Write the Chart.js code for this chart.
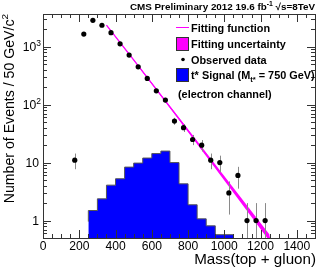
<!DOCTYPE html>
<html><head><meta charset="utf-8">
<script src="https://cdn.jsdelivr.net/npm/chart.js@4/dist/chart.umd.min.js"></script>
<style>html,body{margin:0;padding:0;background:#fff}</style>
</head><body>
<canvas id="c" width="332" height="274"></canvas>
<script>
// Observed data (bin centres, counts)
const dataMass   = [175, 225, 275, 325, 375, 425, 475, 525, 575, 625, 675, 725, 775, 825, 875, 925, 975, 1025, 1075, 1125, 1175, 1225];
const dataCounts = [11, 1650, 2850, 2340, 1740, 1120, 716, 449, 283, 173, 120, 52, 40, 25, 20, 11, 10, 3, 6, 1, 1, 1];
// t* signal histogram (bin low edges, contents)
const signalBinLow = [250, 300, 350, 400, 450, 500, 550, 600, 650, 700, 750, 800, 850, 900, 950, 1000];
const signalBinHigh = 1050;
const signalCounts = [0.96, 1.49, 2.37, 4.08, 5.26, 8.36, 9.8, 11.97, 14.3, 15.8, 10.0, 4.3, 1.87, 1.07, 0.81, 0.57];
// Fitting function, with its relative uncertainty
const fitMass   = [350, 500, 725, 925, 1250];
const fitValues = [2350, 590, 72, 10.9, 0.5];
const fitRelUnc = [0.01, 0.02, 0.045, 0.08, 0.14];
// Axis ticks
const xTicks = [0, 200, 400, 600, 800, 1000, 1200, 1400];
const yTicks = [1, 10, 100, 1000];
const yTickExp = ["", "", "2", "3"];

const FONT = '"Liberation Sans", Arial, Helvetica, sans-serif';
const MAGENTA = '#ff00ff', BLUE = '#0000ff';

const pts = (xs, ys) => xs.map((x, i) => ({x: x, y: ys[i]}));
const sigPts = signalBinLow.map((x, i) => ({x: x, y: signalCounts[i]}));
sigPts.push({x: signalBinHigh, y: signalCounts[signalCounts.length - 1]});
const bandUp = pts(fitMass, fitValues.map((v, i) => v * (1 + fitRelUnc[i])));
const bandLo = pts(fitMass, fitValues.map((v, i) => v / (1 + fitRelUnc[i])));

function fitSize(ctx, text, weight, target) {
  ctx.font = weight + ' 20px ' + FONT;
  return 20 * target / ctx.measureText(text).width;
}

function rich(ctx, parts, x, y, size, weight, align) {
  const fs = p => p[1] === 'n' ? size : size * 0.7;
  let w = 0;
  parts.forEach(p => { ctx.font = weight + ' ' + fs(p) + 'px ' + FONT; w += ctx.measureText(p[0]).width; });
  let cx = align === 'right' ? x - w : (align === 'center' ? x - w / 2 : x);
  ctx.textAlign = 'left';
  ctx.textBaseline = 'alphabetic';
  parts.forEach(p => {
    ctx.font = weight + ' ' + fs(p) + 'px ' + FONT;
    let dy = p[1] === 'sup' ? -size * 0.42 : (p[1] === 'sub' ? size * 0.25 : 0);
    ctx.fillText(p[0], cx, y + dy);
    cx += ctx.measureText(p[0]).width;
  });
}

const rootPlugin = {
  id: 'rootStyle',
  beforeDatasetDraw(chart, args) {
    if (args.index !== 4) return;
    const {ctx, chartArea: a, scales: {x, y}} = chart;
    ctx.save();
    ctx.beginPath(); ctx.rect(a.left, a.top, a.right - a.left, a.bottom - a.top); ctx.clip();
    ctx.strokeStyle = '#8a8a8a'; ctx.lineWidth = 1;
    dataMass.forEach((m, i) => {
      const n = dataCounts[i], e = Math.sqrt(n);
      const px = Math.round(x.getPixelForValue(m)) + 0.5;
      const lo = n - e > 0 ? y.getPixelForValue(n - e) : a.bottom;
      ctx.beginPath(); ctx.moveTo(px, y.getPixelForValue(n + e)); ctx.lineTo(px, lo); ctx.stroke();
    });
    ctx.restore();
  },
  afterDraw(chart) {
    const {ctx, chartArea: a, scales: {x, y}} = chart;
    ctx.save();
    ctx.fillStyle = '#000';
    ctx.strokeStyle = '#333'; ctx.lineWidth = 1;
    ctx.strokeRect(Math.round(a.left) + 0.5, Math.round(a.top) + 0.5, Math.round(a.right - a.left), Math.round(a.bottom - a.top));
    ctx.beginPath();
    for (let v = 0; v <= x.max; v += 50) {
      const px = Math.round(x.getPixelForValue(v)) + 0.5;
      const len = v % 200 === 0 ? 8 : 4;
      ctx.moveTo(px, a.bottom); ctx.lineTo(px, a.bottom - len);
      ctx.moveTo(px, a.top); ctx.lineTo(px, a.top + len);
    }
    for (let d = -1; d <= 3; d++) {
      for (let k = 1; k <= 9; k++) {
        const v = k * Math.pow(10, d);
        if (v < y.min || v > y.max) continue;
        const py = Math.round(y.getPixelForValue(v)) + 0.5;
        const len = k === 1 ? 8 : 4;
        ctx.moveTo(a.left, py); ctx.lineTo(a.left + len, py);
        ctx.moveTo(a.right, py); ctx.lineTo(a.right - len, py);
      }
    }
    ctx.stroke();
    const tickSize = fitSize(ctx, '1400', 'normal', 27);
    xTicks.forEach(v => rich(ctx, [[String(v), 'n']], x.getPixelForValue(v), 250, tickSize, 'normal', 'center'));
    yTicks.forEach((v, i) => {
      const py = y.getPixelForValue(v) + 4;
      if (yTickExp[i]) rich(ctx, [['10', 'n'], [yTickExp[i], 'sup']], 41, py, tickSize, 'normal', 'right');
      else rich(ctx, [[v === 1 ? '1' : '10', 'n']], 39, py, tickSize, 'normal', 'right');
    });
    const xtSize = fitSize(ctx, 'Mass(top + gluon)', 'normal', 122);
    rich(ctx, [['Mass(top + gluon)', 'n']], 316, 264, xtSize, 'normal', 'right');
    const ytSize = fitSize(ctx, 'Number of Events / 50 GeV/c', 'normal', 184);
    ctx.save();
    ctx.translate(14, 14); ctx.rotate(-Math.PI / 2);
    rich(ctx, [['Number of Events / 50 GeV/c', 'n'], ['2', 'sup']], 0, 0, ytSize, 'normal', 'right');
    ctx.restore();
    const hSize = fitSize(ctx, 'CMS Preliminary 2012 19.6 fb-1 \u221As=8TeV', 'bold', 188);
    rich(ctx, [['CMS Preliminary 2012 19.6 fb', 'n'], ['-1', 'sup'], [' \u221As=8TeV', 'n']], 315, 10, hSize, 'bold', 'right');
    // legend
    const fw = 'bold';
    const fsz = fitSize(ctx, 'Fitting uncertainty', fw, 95);
    const tx = 191;
    ctx.strokeStyle = MAGENTA; ctx.lineWidth = 1;
    ctx.beginPath(); ctx.moveTo(176, 27.5); ctx.lineTo(189, 27.5); ctx.stroke();
    rich(ctx, [['Fitting function', 'n']], tx, 31.5, fsz, fw, 'left');
    ctx.fillStyle = MAGENTA; ctx.fillRect(176, 37, 13, 14);
    ctx.strokeStyle = '#333'; ctx.strokeRect(176.5, 37.5, 12, 13);
    ctx.fillStyle = '#000';
    rich(ctx, [['Fitting uncertainty', 'n']], tx, 48, fsz, fw, 'left');
    ctx.beginPath(); ctx.arc(183, 59.5, 1.8, 0, Math.PI * 2); ctx.fill();
    rich(ctx, [['Observed data', 'n']], tx, 63.5, fsz, fw, 'left');
    ctx.fillStyle = BLUE; ctx.fillRect(176, 68, 13, 14);
    ctx.strokeRect(176.5, 68.5, 12, 13);
    ctx.fillStyle = '#000';
    rich(ctx, [['t* Signal (M', 'n'], ['t*', 'sub'], [' = 750 GeV)', 'n']], tx, 79, fsz, fw, 'left');
    rich(ctx, [['(electron channel)', 'n']], 178, 97.5, fsz, fw, 'left');
    ctx.restore();
  }
};

new Chart(document.getElementById('c'), {
  type: 'line',
  data: {
    datasets: [
      {data: bandUp, borderWidth: 0, pointRadius: 0, fill: '+1', backgroundColor: MAGENTA, order: 2},
      {data: bandLo, borderWidth: 0, pointRadius: 0, fill: false, order: 3},
      {data: pts(fitMass, fitValues), borderColor: MAGENTA, borderWidth: 1.3, pointRadius: 0, fill: false, order: 1},
      {data: sigPts, stepped: 'after', borderColor: '#555', borderWidth: 1, backgroundColor: BLUE, fill: 'start', pointRadius: 0, order: 4},
      {data: pts(dataMass, dataCounts), showLine: false, pointRadius: 2.6, pointBackgroundColor: '#000', pointBorderWidth: 0, order: 0}
    ]
  },
  options: {
    responsive: false, animation: false, devicePixelRatio: 1,
    layout: {padding: {left: 43, right: 17, top: 14, bottom: 36}},
    plugins: {legend: {display: false}, tooltip: {enabled: false}},
    scales: {
      x: {type: 'linear', min: 0, max: 1500, display: false},
      y: {type: 'logarithmic', min: 0.5, max: 3660, display: false}
    }
  },
  plugins: [rootPlugin]
});
</script>
</body></html>
